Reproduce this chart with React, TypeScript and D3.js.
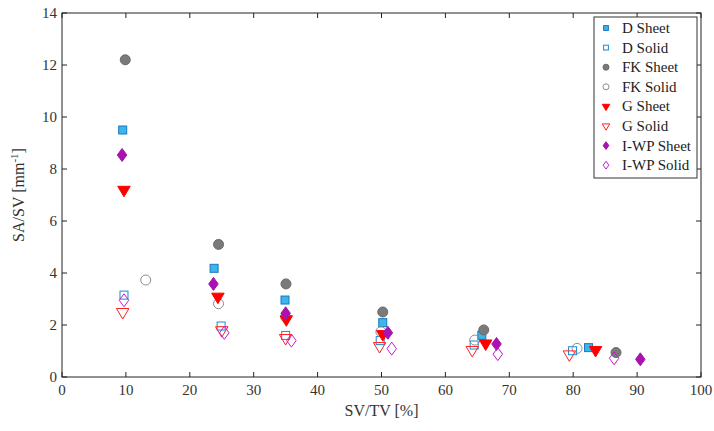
import React from "react";
import * as d3 from "d3";

const W = 714, H = 431;
const M = { left: 62, right: 701, top: 13, bottom: 377 };

const xTicks = [0, 10, 20, 30, 40, 50, 60, 70, 80, 90, 100];
const yTicks = [0, 2, 4, 6, 8, 10, 12, 14];

// [SV/TV %, SA/SV mm^-1]
const dSheet: [number, number][] = [[9.5, 9.5], [23.8, 4.18], [34.9, 2.96], [50.2, 2.09], [65.7, 1.6], [82.4, 1.13]];
const dSolid: [number, number][] = [[9.7, 3.15], [24.9, 1.96], [35.0, 1.6], [49.8, 1.4], [64.5, 1.23], [79.9, 1.01]];
const fkSheet: [number, number][] = [[9.9, 12.2], [24.5, 5.1], [35.05, 3.58], [50.2, 2.5], [66.0, 1.81], [86.7, 0.94]];
const fkSolid: [number, number][] = [[13.1, 3.73], [24.5, 2.82], [35.0, 2.3], [49.9, 1.74], [64.6, 1.42], [80.6, 1.1]];
const gSheet: [number, number][] = [[9.7, 7.2], [24.4, 3.09], [35.1, 2.22], [50.2, 1.65], [66.3, 1.29], [83.5, 1.04]];
const gSolid: [number, number][] = [[9.5, 2.5], [25.0, 1.8], [35.0, 1.5], [49.7, 1.19], [64.2, 1.04], [79.4, 0.87]];
const iwpSheet: [number, number][] = [[9.4, 8.54], [23.7, 3.58], [35.0, 2.45], [51.0, 1.7], [68.0, 1.27], [90.5, 0.68]];
const iwpSolid: [number, number][] = [[9.7, 2.95], [25.4, 1.7], [35.9, 1.4], [51.6, 1.09], [68.2, 0.88], [86.4, 0.72]];

type Shape = "square" | "circle" | "triDown" | "diamond";
interface Series { name: string; data: [number, number][]; shape: Shape; fill: string; stroke: string; }

const series: Series[] = [
  { name: "D Sheet", data: dSheet, shape: "square", fill: "#3cb4ec", stroke: "#1a78c2" },
  { name: "D Solid", data: dSolid, shape: "square", fill: "none", stroke: "#1a8ad4" },
  { name: "FK Sheet", data: fkSheet, shape: "circle", fill: "#7a7a7a", stroke: "#6a6a6a" },
  { name: "FK Solid", data: fkSolid, shape: "circle", fill: "none", stroke: "#8c8c8c" },
  { name: "G Sheet", data: gSheet, shape: "triDown", fill: "#ff0000", stroke: "#ff0000" },
  { name: "G Solid", data: gSolid, shape: "triDown", fill: "none", stroke: "#ff2020" },
  { name: "I-WP Sheet", data: iwpSheet, shape: "diamond", fill: "#a812b0", stroke: "#a812b0" },
  { name: "I-WP Solid", data: iwpSolid, shape: "diamond", fill: "none", stroke: "#c41ed0" },
];

function marker(shape: Shape, cx: number, cy: number, s: number, fill: string, stroke: string, key: string) {
  if (shape === "square") {
    const h = s * 0.8;
    return <rect key={key} x={cx - h / 2} y={cy - h / 2} width={h} height={h} fill={fill} stroke={stroke} strokeWidth={1} />;
  }
  if (shape === "circle") {
    return <circle key={key} cx={cx} cy={cy} r={s / 2} fill={fill} stroke={stroke} strokeWidth={1} />;
  }
  if (shape === "triDown") {
    const w = s * 1.25, h = s * 1.05;
    const p = `M${cx - w / 2},${cy - h / 3}L${cx + w / 2},${cy - h / 3}L${cx},${cy + (2 * h) / 3}Z`;
    return <path key={key} d={p} fill={fill} stroke={stroke} strokeWidth={1} />;
  }
  const w = s * 0.95, h = s * 1.3;
  const p = `M${cx},${cy - h / 2}L${cx + w / 2},${cy}L${cx},${cy + h / 2}L${cx - w / 2},${cy}Z`;
  return <path key={key} d={p} fill={fill} stroke={stroke} strokeWidth={1} />;
}

export default function App() {
  const x = d3.scaleLinear().domain([0, 100]).range([M.left, M.right]);
  const y = d3.scaleLinear().domain([0, 14]).range([M.bottom, M.top]);
  const font = "Liberation Serif, DejaVu Serif, serif";
  const tl = 5;
  const legX = 594, legY = 17, legW = 103, legH = 161;
  return (
    <svg width={W} height={H} style={{ position: "absolute", left: 0, top: 0, background: "#fff", fontFamily: font }}>
      {/* data */}
      {series.map((s, si) =>
        s.data.map((d, i) => marker(s.shape, x(d[0]), y(d[1]), 10, s.fill, s.stroke, `${si}-${i}`))
      )}
      {/* frame */}
      <rect x={M.left} y={M.top} width={M.right - M.left} height={M.bottom - M.top} fill="none" stroke="#222" strokeWidth={1} />
      {xTicks.map((t) => (
        <g key={"x" + t}>
          <line x1={x(t)} x2={x(t)} y1={M.bottom} y2={M.bottom - tl} stroke="#222" />
          <line x1={x(t)} x2={x(t)} y1={M.top} y2={M.top + tl} stroke="#222" />
          <text x={x(t)} y={M.bottom + 18} textAnchor="middle" fontSize={15} fill="#333" style={{ fontFamily: font }}>{t}</text>
        </g>
      ))}
      {yTicks.map((t) => (
        <g key={"y" + t}>
          <line x1={M.left} x2={M.left + tl} y1={y(t)} y2={y(t)} stroke="#222" />
          <line x1={M.right} x2={M.right - tl} y1={y(t)} y2={y(t)} stroke="#222" />
          <text x={M.left - 5} y={y(t) + 5} textAnchor="end" fontSize={15} fill="#333" style={{ fontFamily: font }}>{t}</text>
        </g>
      ))}
      <text x={(M.left + M.right) / 2} y={416} textAnchor="middle" fontSize={16} fill="#333" style={{ fontFamily: font }}>SV/TV [%]</text>
      <text transform={`translate(24,${(M.top + M.bottom) / 2}) rotate(-90)`} textAnchor="middle" fontSize={16} fill="#333" style={{ fontFamily: font }}>
        SA/SV [mm<tspan dy={-6} fontSize={11}>-1</tspan><tspan dy={6}>]</tspan>
      </text>
      {/* legend */}
      <rect x={legX} y={legY} width={legW} height={legH} fill="#fff" stroke="#333" strokeWidth={1} />
      {series.map((s, i) => {
        const cy = 28 + i * 19.6;
        return (
          <g key={"l" + i}>
            {marker(s.shape, 606, cy, 6, s.fill, s.stroke, "lm" + i)}
            <text x={622} y={cy + 5} fontSize={15} fill="#222" style={{ fontFamily: font }}>{s.name}</text>
          </g>
        );
      })}
    </svg>
  );
}
